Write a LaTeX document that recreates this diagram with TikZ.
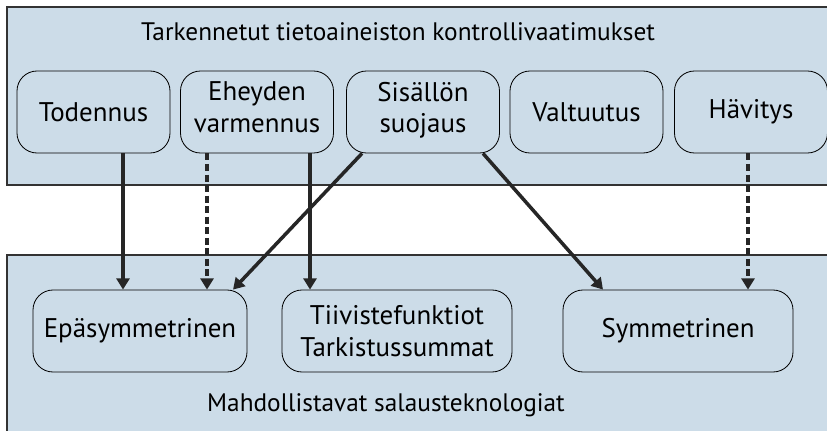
\documentclass[tikz,border=0pt]{standalone}
\usepackage{fontspec}
\setmainfont{PT Sans}
\usetikzlibrary{calc,positioning,arrows.meta}
\definecolor{panelblue}{RGB}{204,220,232}
\newcommand{\lowpad}{\rule[-8pt]{0pt}{0pt}}
\begin{document}
\begin{tikzpicture}[x=0.3mm,y=-0.3mm,font=\fontsize{23}{27}\selectfont,
  panel/.style={draw=black!80,fill=panelblue,line width=1.1pt},
  ttl/.style={font=\fontsize{21.6}{26}\selectfont},
  box/.style={draw,rounded corners=6mm,minimum width=45.9mm,minimum height=24.6mm,align=center,inner sep=0pt,line width=0.7pt},
  arr/.style={-{Triangle[length=9.5pt,width=11pt]},line width=3pt,draw=black!85},
  dasharr/.style={arr,line width=2.6pt,dash pattern=on 6pt off 3pt}]
              \useasboundingbox (0,0) rectangle (827,430);
              \draw[panel] (7,7) rectangle (840,185);
              \draw[panel] (7,255) rectangle (840,440);
              \node[ttl] (kontr) at (398,32) {Tarkennetut tietoaineiston kontrollivaatimukset};
              \node[ttl] (tekn) at (386,405) {Mahdollistavat salausteknologiat};

              \node[box] (r1) at (93.5,112) {Todennus};
              \node[box] (r2) at (257,112) {Eheyden\\varmennus\lowpad};
              \node[box] (r3) at (423,112) {Sisällön\\suojaus\lowpad};
              \node[box] (r4) at (586.5,112) {Valtuutus};
              \node[box] (r5) at (751,112) {Hävitys};

              \node[box,minimum width=64.2mm] (k1) at (140,331) {Epäsymmetrinen};
              \node[box,minimum width=69mm] (k2) at (397,331) {Tiivistefunktiot\\Tarkistussummat};
              \node[box,minimum width=69mm] (k3) at (678,331) {Symmetrinen};

              \coordinate (s1) at ($(r1.south)+(29.5,0)$);
              \coordinate (s2) at ($(r2.south)+(-50,0)$);
              \coordinate (s3) at ($(r2.south)+(53,0)$);
              \coordinate (s4) at ($(r3.south)+(-61,0)$);
              \coordinate (s5) at ($(r3.south)+(60,0)$);
              \coordinate (s6) at ($(r5.south)+(-3,0)$);
              \draw[arr] (s1) -- (s1 |- k1.north);
              \draw[dasharr] (s2) -- (s2 |- k1.north);
              \draw[arr] (s3) -- (s3 |- k2.north);
              \draw[arr] (s4) -- ($(k1.north)+(93,0)$);
              \draw[arr] (s5) -- ($(k3.north)+(-75,0)$);
              \draw[dasharr] (s6) -- (s6 |- k3.north);
            \end{tikzpicture}
\end{document}
